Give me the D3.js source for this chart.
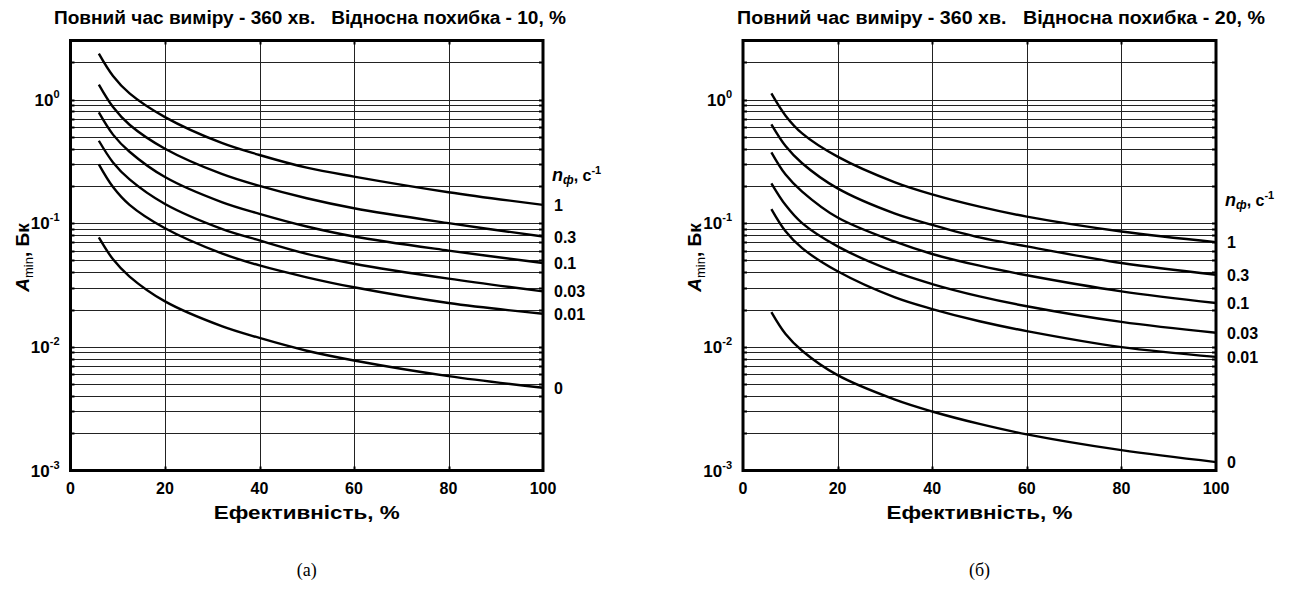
<!DOCTYPE html>
<html>
<head>
<meta charset="utf-8">
<script src="https://cdn.jsdelivr.net/npm/d3@7"></script>
<style>
  body { margin: 0; background: #fff; }
  svg { display: block; font-family: "Liberation Sans", Arial, sans-serif; }
  .ttl { white-space: pre; }
</style>
</head>
<body>
<svg id="chart" width="1290" height="590"></svg>
<script>
// efficiency, %
const eff = [6, 9, 12.5, 20, 32, 40, 50, 60, 80, 100];
const bgLevels = ["1", "0.3", "0.1", "0.03", "0.01", "0"];

// relative error 10 %
const err10_n1 = [2.35, 1.55, 1.12, 0.72, 0.445, 0.356, 0.281, 0.238, 0.178, 0.1405];
const err10_n03 = [1.32, 0.87, 0.625, 0.4, 0.25, 0.2, 0.159, 0.132, 0.1, 0.078];
const err10_n01 = [0.786, 0.52, 0.378, 0.236, 0.148, 0.119, 0.094, 0.078, 0.06, 0.0476];
const err10_n003 = [0.464, 0.31, 0.226, 0.143, 0.09, 0.0725, 0.0565, 0.047, 0.0356, 0.0281];
const err10_n001 = [0.299, 0.196, 0.1406, 0.091, 0.057, 0.0455, 0.0365, 0.0303, 0.0226, 0.0185];
const err10_n0 = [0.0767, 0.051, 0.037, 0.0233, 0.0147, 0.0118, 0.0093, 0.00776, 0.0058, 0.00467];

// relative error 20 %
const err20_n1 = [1.12, 0.74, 0.532, 0.345, 0.215, 0.171, 0.136, 0.113, 0.0857, 0.0703];
const err20_n03 = [0.629, 0.42, 0.305, 0.191, 0.12, 0.097, 0.0767, 0.0649, 0.0476, 0.0383];
const err20_n01 = [0.374, 0.247, 0.18, 0.111, 0.0711, 0.0563, 0.0453, 0.0379, 0.0281, 0.0226];
const err20_n003 = [0.21, 0.14, 0.1, 0.0649, 0.0405, 0.0322, 0.0256, 0.0213, 0.0159, 0.013];
const err20_n001 = [0.13, 0.086, 0.0628, 0.0408, 0.0252, 0.0202, 0.0161, 0.0134, 0.00995, 0.0083];
const err20_n0 = [0.0191, 0.0127, 0.0093, 0.0059, 0.00376, 0.003, 0.00238, 0.00196, 0.00146, 0.00117];

const xTicks = [0, 20, 40, 60, 80, 100];
const yDecades = [0, -1, -2, -3];

const svg = d3.select("#chart");

function drawPanel(opts) {
  const { x0, x1, y0, y1, title, titleX, titleLen, series, headerY, caption } = opts;
  const g = svg.append("g");

  const x = d3.scaleLinear().domain([0, 100]).range([x0, x1]);
  const y = d3.scaleLog().domain([1e-3, 3]).range([y1, y0]);

  // horizontal grid (every log minor step)
  const yGrid = y.ticks().filter((v) => v > 1e-3 * 1.001 && v < 3 * 0.999);
  g.append("g")
    .selectAll("line")
    .data(yGrid)
    .join("line")
    .attr("x1", x0)
    .attr("x2", x1)
    .attr("y1", (d) => Math.round(y(d)) + 0.5)
    .attr("y2", (d) => Math.round(y(d)) + 0.5)
    .attr("stroke", "#222")
    .attr("stroke-width", 1);

  // vertical grid
  g.append("g")
    .selectAll("line")
    .data(xTicks.slice(1, -1))
    .join("line")
    .attr("x1", (d) => Math.round(x(d)) + 0.5)
    .attr("x2", (d) => Math.round(x(d)) + 0.5)
    .attr("y1", y0)
    .attr("y2", y1)
    .attr("stroke", "#222")
    .attr("stroke-width", 1);

  // small inward ticks on the frame
  const tk = g.append("g").attr("stroke", "#000").attr("stroke-width", 2);
  yGrid.forEach((v) => {
    const yy = Math.round(y(v)) + 0.5;
    tk.append("line").attr("x1", x0).attr("x2", x0 + 4).attr("y1", yy).attr("y2", yy);
    tk.append("line").attr("x1", x1 - 4).attr("x2", x1).attr("y1", yy).attr("y2", yy);
  });
  xTicks.slice(1, -1).forEach((v) => {
    const xx = Math.round(x(v)) + 0.5;
    tk.append("line").attr("x1", xx).attr("x2", xx).attr("y1", y0).attr("y2", y0 + 4);
    tk.append("line").attr("x1", xx).attr("x2", xx).attr("y1", y1 - 4).attr("y2", y1);
  });

  // curves
  const line = d3
    .line()
    .x((d, i) => x(eff[i]))
    .y((d) => y(d))
    .curve(d3.curveCatmullRom.alpha(0.5));

  g.append("g")
    .selectAll("path")
    .data(series)
    .join("path")
    .attr("d", (d) => line(d))
    .attr("fill", "none")
    .attr("stroke", "#000")
    .attr("stroke-width", 2.4)
    .attr("stroke-linejoin", "round");

  // frame
  g.append("rect")
    .attr("x", x0)
    .attr("y", y0)
    .attr("width", x1 - x0)
    .attr("height", y1 - y0)
    .attr("fill", "none")
    .attr("stroke", "#000")
    .attr("stroke-width", 3);

  // x tick labels
  g.append("g")
    .selectAll("text")
    .data(xTicks)
    .join("text")
    .attr("x", (d) => x(d))
    .attr("y", y1 + 23)
    .attr("text-anchor", "middle")
    .attr("font-size", 16)
    .attr("font-weight", "bold")
    .text((d) => d);

  // y tick labels 10^k
  const yl = g
    .append("g")
    .selectAll("text")
    .data(yDecades)
    .join("text")
    .attr("x", x0 - 11)
    .attr("y", (d) => y(Math.pow(10, d)) + 6)
    .attr("text-anchor", "end")
    .attr("font-size", 17)
    .attr("font-weight", "bold");
  yl.append("tspan").text("10");
  yl.append("tspan")
    .attr("font-size", 11)
    .attr("dy", -8)
    .text((d) => d);

  // axis titles
  g.append("text")
    .attr("x", (x0 + x1) / 2)
    .attr("y", y1 + 48)
    .attr("text-anchor", "middle")
    .attr("font-size", 18)
    .attr("font-weight", "bold")
    .attr("textLength", 186)
    .attr("lengthAdjust", "spacingAndGlyphs")
    .text("Ефективність, %");

  const yt = g
    .append("text")
    .attr("transform", `translate(${x0 - 42},${(y0 + y1) / 2 + 2}) rotate(-90)`)
    .attr("text-anchor", "middle")
    .attr("font-size", 19)
    .attr("font-weight", "bold");
  yt.append("tspan").attr("font-style", "italic").text("A");
  yt.append("tspan").attr("font-size", 13).attr("font-weight", "normal").attr("dy", 4).text("min");
  yt.append("tspan").attr("dy", -4).text(", Бк");

  // title
  g.append("text")
    .attr("class", "ttl")
    .attr("x", titleX)
    .attr("y", 24)
    .attr("text-anchor", "middle")
    .attr("font-size", 18)
    .attr("font-weight", "bold")
    .attr("textLength", titleLen)
    .attr("lengthAdjust", "spacingAndGlyphs")
    .text(title);

  // curve labels
  g.append("g")
    .selectAll("text")
    .data(series)
    .join("text")
    .attr("x", x1 + 11)
    .attr("y", (d) => y(d[d.length - 1]) + 6)
    .attr("font-size", 16)
    .attr("font-weight", "bold")
    .text((d, i) => bgLevels[i]);

  const hd = g
    .append("text")
    .attr("x", x1 + 9)
    .attr("y", headerY)
    .attr("font-size", 16)
    .attr("font-weight", "bold");
  hd.append("tspan").attr("font-style", "italic").attr("font-size", 18).text("n");
  hd.append("tspan").attr("font-style", "italic").attr("font-size", 12).attr("dy", 3).text("ф");
  hd.append("tspan").attr("dy", -3).text(", с");
  hd.append("tspan").attr("font-size", 11).attr("dy", -7).text("-1");

  // caption
  svg
    .append("text")
    .attr("x", (x0 + x1) / 2)
    .attr("y", 576)
    .attr("text-anchor", "middle")
    .attr("font-family", "'Liberation Serif', 'Times New Roman', serif")
    .attr("font-size", 18)
    .text(caption);
}

drawPanel({
  x0: 70.5, x1: 543, y0: 40.5, y1: 470.5,
  title: "Повний час виміру - 360 хв.   Відносна похибка - 10, %",
  titleX: 310,
  titleLen: 512,
  series: [err10_n1, err10_n03, err10_n01, err10_n003, err10_n001, err10_n0],
  headerY: 181,
  caption: "(а)"
});

drawPanel({
  x0: 743, x1: 1216, y0: 40.5, y1: 470.5,
  title: "Повний час виміру - 360 хв.   Відносна похибка - 20, %",
  titleX: 1001,
  titleLen: 528,
  series: [err20_n1, err20_n03, err20_n01, err20_n003, err20_n001, err20_n0],
  headerY: 206,
  caption: "(б)"
});
</script>
</body>
</html>
